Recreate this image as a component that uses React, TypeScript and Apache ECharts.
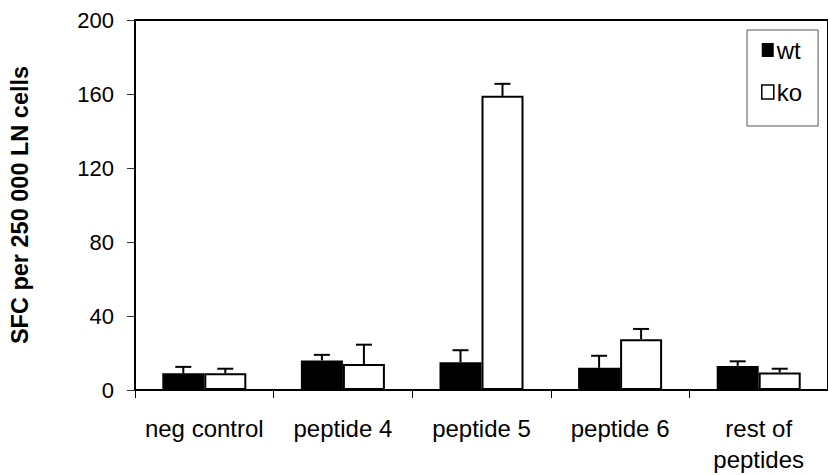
import React, { useEffect, useRef } from "react";
import * as echarts from "echarts";

// Spot-forming cells per 250 000 lymph-node cells, wild type vs knockout
const categories = ["neg control", "peptide 4", "peptide 5", "peptide 6", "rest of\npeptides"];
const wtValues = [9, 16, 15, 12, 13];
const wtErrors = [3.5, 3, 6.5, 6.5, 2.5];
const koValues = [9, 14, 159, 27.5, 9.5];
const koErrors = [2.5, 10.5, 6.5, 5.5, 2];
const yTicks = { min: 0, max: 200, interval: 40 };

const FONT = "'Liberation Sans', Arial, sans-serif";
const BAR_WIDTH = 42;

function errorSeries(name: string, values: number[], errors: number[], offset: number) {
  return {
    name: name + " error",
    type: "custom",
    z: 5,
    silent: true,
    encode: { x: 0, y: 1 },
    data: values.map((v, i) => [i, v, errors[i]]),
    renderItem: (_params: any, api: any) => {
      const idx = api.value(0);
      const v = api.value(1);
      const e = api.value(2);
      const base = api.coord([idx, v]);
      const top = api.coord([idx, v + e]);
      const x = base[0] + offset;
      const style = { stroke: "#000", lineWidth: 2 };
      return {
        type: "group",
        children: [
          { type: "line", shape: { x1: x, y1: base[1], x2: x, y2: top[1] }, style },
          { type: "line", shape: { x1: x - 8, y1: top[1], x2: x + 8, y2: top[1] }, style },
        ],
      };
    },
  };
}

export default function App() {
  const ref = useRef<HTMLDivElement>(null);

  useEffect(() => {
    if (!ref.current) return;
    const chart = echarts.init(ref.current, null, { renderer: "svg" });
    chart.setOption({
      animation: false,
      backgroundColor: "#fff",
      textStyle: { fontFamily: FONT, color: "#000" },
      grid: {
        left: 129,
        top: 20,
        width: 708,
        bottom: 81,
        show: true,
        borderColor: "#000",
        borderWidth: 2,
        backgroundColor: "transparent",
      },
      legend: {
        orient: "vertical",
        left: 747,
        top: 30,
        padding: [8, 16, 22, 14],
        itemWidth: 12,
        itemHeight: 14,
        itemGap: 18,
        icon: "rect",
        borderColor: "#555",
        borderWidth: 1,
        backgroundColor: "#fff",
        textStyle: { fontFamily: FONT, fontSize: 24, color: "#000", padding: [0, 0, 0, -2] },
        data: [
          { name: "wt", itemStyle: { color: "#000" } },
          { name: "ko", itemStyle: { color: "#fff", borderColor: "#000", borderWidth: 1.5 } },
        ],
      },
      xAxis: {
        type: "category",
        data: categories,
        boundaryGap: true,
        axisLine: { lineStyle: { color: "#000", width: 2 } },
        axisTick: { show: true, length: 8, lineStyle: { color: "#000", width: 1 } },
        axisLabel: {
          fontFamily: FONT,
          fontSize: 24,
          color: "#000",
          margin: 23,
          lineHeight: 31,
          interval: 0,
        },
      },
      yAxis: {
        type: "value",
        min: yTicks.min,
        max: yTicks.max,
        interval: yTicks.interval,
        name: "SFC per 250 000 LN cells",
        nameLocation: "middle",
        nameRotate: 90,
        nameGap: 103,
        nameTextStyle: { fontFamily: FONT, fontSize: 23.5, fontWeight: "bold", color: "#000" },
        splitLine: { show: false },
        axisLine: { show: true, lineStyle: { color: "#000", width: 2 } },
        axisTick: { show: true, length: 8, lineStyle: { color: "#333", width: 1 } },
        axisLabel: { fontFamily: FONT, fontSize: 22, color: "#000", margin: 21 },
      },
      series: [
        {
          name: "wt",
          type: "bar",
          data: wtValues,
          barWidth: BAR_WIDTH,
          barGap: "0%",
          itemStyle: { color: "#000" },
        },
        {
          name: "ko",
          type: "bar",
          data: koValues,
          barWidth: BAR_WIDTH,
          barGap: "0%",
          itemStyle: { color: "#fff", borderColor: "#000", borderWidth: 2 },
        },
        errorSeries("wt", wtValues, wtErrors, -BAR_WIDTH / 2),
        errorSeries("ko", koValues, koErrors, BAR_WIDTH / 2),
      ],
    });
    return () => chart.dispose();
  }, []);

  return (
    <div
      ref={ref}
      style={{ position: "fixed", left: 0, top: 0, width: 828, height: 475, background: "#fff" }}
    />
  );
}
